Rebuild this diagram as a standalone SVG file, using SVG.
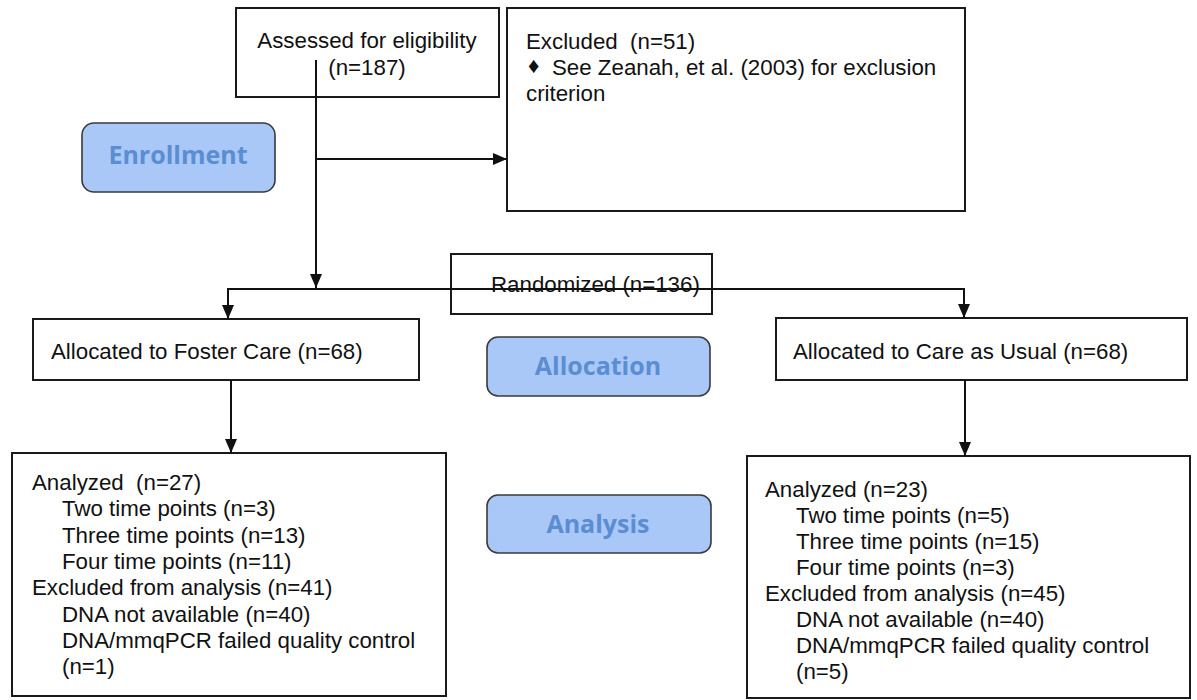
<svg xmlns="http://www.w3.org/2000/svg" width="1197" height="700" viewBox="0 0 1197 700">
<defs>
<marker id="arr" viewBox="0 0 14 14" markerWidth="14" markerHeight="14" refX="14" refY="7" orient="auto" markerUnits="userSpaceOnUse">
<path d="M0,1 L14,7 L0,13 z" fill="#111"/>
</marker>
<style>
.box{fill:#fff;stroke:#1a1a1a;stroke-width:2}
.pill{fill:#a9c8f7;stroke:#3a3a3a;stroke-width:1.6}
.t{font-family:"Liberation Sans",Arial,sans-serif;font-size:22.3px;fill:#111}
.pt{font-family:"Open Sans","Noto Sans",sans-serif;font-size:25px;font-weight:bold;fill:#5b8dd3;text-anchor:middle}
.c{fill:none;stroke:#111;stroke-width:2}
</style>
</defs>
<rect width="1197" height="700" fill="#fff"/>

<g id="assessed">
<rect class="box" x="236" y="8" width="263" height="89"/>
<text class="t" x="367" y="48" text-anchor="middle">Assessed for eligibility</text>
<text class="t" x="367" y="75" text-anchor="middle">(n=187)</text>
</g>

<g id="excluded">
<rect class="box" x="507" y="8" width="458" height="203"/>
<text class="t" x="526" y="49" xml:space="preserve">Excluded  (n=51)</text>
<text class="t" x="528" y="73" font-size="11">♦</text>
<text class="t" x="552" y="75">See Zeanah, et al. (2003) for exclusion</text>
<text class="t" x="526" y="101">criterion</text>
</g>

<g id="enrollment">
<rect class="pill" x="82" y="123" width="193" height="69" rx="12"/>
<text class="pt" x="178" y="164">Enrollment</text>
</g>

<g id="randomized">
<rect class="box" x="451" y="254" width="261" height="60"/>
<text class="t" x="491" y="292">Randomized (n=136)</text>
</g>

<g id="foster">
<rect class="box" x="33" y="319" width="386" height="61"/>
<text class="t" x="51" y="359">Allocated to Foster Care (n=68)</text>
</g>

<g id="allocation">
<rect class="pill" x="487" y="337" width="223" height="59" rx="11"/>
<text class="pt" x="598" y="375">Allocation</text>
</g>

<g id="usual">
<rect class="box" x="776" y="318" width="411" height="62"/>
<text class="t" x="793" y="359">Allocated to Care as Usual (n=68)</text>
</g>

<g id="analysis">
<rect class="pill" x="487" y="495" width="224" height="58" rx="11"/>
<text class="pt" x="598" y="533">Analysis</text>
</g>

<g id="foster-analyzed">
<rect class="box" x="12" y="453" width="434" height="243"/>
<text class="t" x="32" y="490" xml:space="preserve">Analyzed  (n=27)</text>
<text class="t" x="62" y="516">Two time points (n=3)</text>
<text class="t" x="62" y="543">Three time points (n=13)</text>
<text class="t" x="62" y="569">Four time points (n=11)</text>
<text class="t" x="32" y="595">Excluded from analysis (n=41)</text>
<text class="t" x="62" y="622">DNA not available (n=40)</text>
<text class="t" x="62" y="648">DNA/mmqPCR failed quality control</text>
<text class="t" x="62" y="674">(n=1)</text>
</g>

<g id="usual-analyzed">
<rect class="box" x="747" y="456" width="443" height="242"/>
<text class="t" x="765" y="497">Analyzed (n=23)</text>
<text class="t" x="796" y="523">Two time points (n=5)</text>
<text class="t" x="796" y="549">Three time points (n=15)</text>
<text class="t" x="796" y="575">Four time points (n=3)</text>
<text class="t" x="765" y="601">Excluded from analysis (n=45)</text>
<text class="t" x="796" y="627">DNA not available (n=40)</text>
<text class="t" x="796" y="653">DNA/mmqPCR failed quality control</text>
<text class="t" x="796" y="679">(n=5)</text>
</g>

<g id="connectors">
<path class="c" d="M316,60 V288" marker-end="url(#arr)"/>
<path class="c" d="M316,159 H507" marker-end="url(#arr)"/>
<path class="c" d="M600,289 H228 V319" marker-end="url(#arr)"/>
<path class="c" d="M600,289 H964 V318" marker-end="url(#arr)"/>
<path class="c" d="M231,380 V453" marker-end="url(#arr)"/>
<path class="c" d="M965,380 V456" marker-end="url(#arr)"/>
</g>
</svg>
